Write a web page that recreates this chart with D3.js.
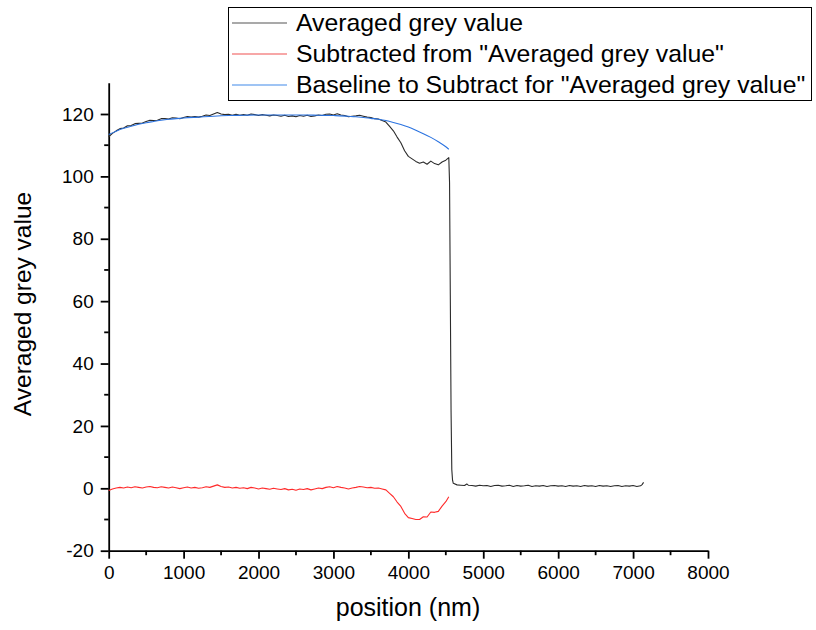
<!DOCTYPE html>
<html>
<head>
<meta charset="utf-8">
<script src="https://cdn.jsdelivr.net/npm/d3@7/dist/d3.min.js"></script>
<style>
  html, body { margin: 0; padding: 0; background: #fff; }
  svg { display: block; font-family: "Liberation Sans", Arial, sans-serif; }
</style>
</head>
<body>
<svg id="chart" width="816" height="630"></svg>
<script>
// ---- data -------------------------------------------------------------
const seriesNames = [
  "Averaged grey value",
  "Subtracted from \"Averaged grey value\"",
  "Baseline to Subtract for \"Averaged grey value\""
];

// Averaged grey value profile (position in nm)
const greyPos = [
  0,50,100,150,200,250,300,350,400,450,500,550,600,650,700,750,800,850,900,950,
  1000,1050,1100,1150,1200,1250,1300,1350,1400,1450,1500,1550,1600,1650,1700,1750,1800,1850,1900,1950,
  2000,2050,2100,2150,2200,2250,2300,2350,2400,2450,2500,2550,2600,2650,2700,2750,2800,2850,2900,2950,
  3000,3050,3100,3150,3200,3250,3300,3350,3400,3450,3500,3550,3600,3650,3700,3750,3800,3850,3900,3950,
  4000,4050,4100,4150,4200,4250,4300,4350,4400,4450,4500,4540,4550,4560,4570,4580,4590,4600,4650,4700,
  4750,4780,4800,4850,4900,4950,5000,5050,5100,5150,5200,5250,5300,5350,5400,5450,5500,5550,5600,5650,
  5700,5750,5800,5850,5900,5950,6000,6050,6100,6150,6200,6250,6300,6350,6400,6450,6500,6550,6600,6650,
  6700,6750,6800,6850,6900,6950,7000,7050,7100,7120,7140
];
const greyVal = [
  112.7,113.8,114.6,115.3,115.5,116.2,116.3,116.9,117.0,117.1,117.6,118.0,117.9,118.0,118.5,118.5,118.4,118.8,118.7,118.5,
  118.9,119.2,119.0,119.2,119.0,119.3,119.7,119.5,120.0,120.5,120.0,119.8,119.9,119.6,119.9,119.6,119.8,119.6,120.0,119.8,
  119.5,119.8,119.6,119.4,119.7,119.5,119.3,119.6,119.2,119.4,119.1,119.5,119.3,119.6,119.2,119.4,119.7,119.5,119.9,120.0,
  119.7,120.1,119.7,119.5,119.1,119.3,119.4,119.6,119.3,119.0,118.9,118.5,118.4,117.9,117.4,116.0,114.6,112.6,110.8,108.2,
  106.4,105.6,104.8,104.2,104.6,103.9,104.9,104.1,103.7,104.6,105.2,106.0,98.0,62.0,25.0,6.0,2.6,1.6,1.1,1.0,
  0.9,1.4,1.0,0.9,0.7,1.0,0.8,0.9,0.6,0.9,1.0,0.7,0.8,1.0,0.6,0.9,0.7,0.8,1.0,0.6,
  0.8,0.7,0.9,0.6,0.8,0.9,0.7,0.8,0.6,0.9,0.7,0.8,0.6,0.9,0.7,0.8,0.6,0.9,0.7,0.8,
  0.6,0.8,0.9,0.6,0.8,0.7,0.9,0.6,0.8,1.2,1.9
];

// Baseline-subtracted profile
const subPos = [
  0,50,100,150,200,250,300,350,400,450,500,550,600,650,700,750,800,850,900,950,
  1000,1050,1100,1150,1200,1250,1300,1350,1400,1450,1500,1550,1600,1650,1700,1750,1800,1850,1900,1950,
  2000,2050,2100,2150,2200,2250,2300,2350,2400,2450,2500,2550,2600,2650,2700,2750,2800,2850,2900,2950,
  3000,3050,3100,3150,3200,3250,3300,3350,3400,3450,3500,3550,3600,3650,3700,3750,3800,3850,3900,3950,
  4000,4050,4100,4150,4200,4250,4300,4350,4400,4450,4500,4540
];
const subVal = [
  -0.7,-0.2,0.1,0.3,0.1,0.4,0.2,0.5,0.3,0.1,0.4,0.6,0.3,0.2,0.5,0.3,0.1,0.4,0.2,-0.1,
  0.2,0.4,0.1,0.3,0.0,0.2,0.5,0.3,0.7,1.1,0.6,0.3,0.4,0.1,0.3,0.0,0.2,-0.1,0.3,0.1,
  -0.2,0.1,-0.1,-0.3,0.0,-0.2,-0.4,-0.1,-0.5,-0.3,-0.6,-0.2,-0.4,-0.1,-0.5,-0.2,0.1,-0.1,0.3,0.5,
  0.2,0.6,0.3,0.1,-0.2,0.1,0.3,0.6,0.4,0.2,0.3,0.0,0.1,-0.2,-0.5,-1.6,-2.7,-4.4,-5.8,-8.0,
  -9.4,-9.7,-10.0,-10.0,-9.1,-9.2,-7.6,-7.7,-7.4,-5.7,-4.3,-2.7
];

// Fitted baseline
const basePos = [
  0,100,200,300,400,500,600,700,800,900,1000,1200,1400,1600,1800,2000,2200,2400,2600,2800,
  3000,3200,3300,3400,3500,3600,3700,3800,3900,4000,4100,4200,4300,4400,4500,4540
];
const baseVal = [
  113.4,114.5,115.4,116.1,116.7,117.2,117.6,118.0,118.3,118.5,118.7,119.0,119.3,119.5,119.6,119.7,119.7,119.7,119.7,119.6,
  119.5,119.3,119.1,118.9,118.6,118.3,117.9,117.3,116.6,115.8,114.8,113.7,112.5,111.1,109.5,108.7
];

const xTicks = [0,1000,2000,3000,4000,5000,6000,7000,8000];
const yTicks = [-20,0,20,40,60,80,100,120];

// ---- layout -----------------------------------------------------------
const svg = d3.select("#chart");
const x = d3.scaleLinear().domain([0, 8000]).range([108.7, 708]);
const y = d3.scaleLinear().domain([-20, 130]).range([550.7, 82.8]);

const colors = ["#2b2b2b", "#ff2a2a", "#2b73e0"];
const legendColors = ["#8c8c8c", "#f58a8a", "#7fb0f0"];
const plain = d => String(d);   // hyphen-minus for negatives

// ---- axes -------------------------------------------------------------
const xMinor = d3.range(500, 8000, 1000);
const yMinor = d3.range(-10, 130, 20);

const xAxisG = svg.append("g").attr("transform", `translate(0,${y(-20)})`);
xAxisG.call(d3.axisBottom(x).tickValues(xTicks).tickFormat(plain).tickSize(8).tickSizeOuter(0).tickPadding(7));
xAxisG.selectAll(".tick line").attr("stroke", "#000").attr("stroke-width", 1.8);
xAxisG.select(".domain").attr("stroke", "#000").attr("stroke-width", 1.8);
xAxisG.selectAll(".tick text").attr("font-size", 19).attr("fill", "#000")
  .attr("font-family", "'Liberation Sans', Arial, sans-serif");
xAxisG.selectAll(".minor").data(xMinor).enter().append("line")
  .attr("class", "minor")
  .attr("x1", d => x(d)).attr("x2", d => x(d))
  .attr("y1", 0).attr("y2", 4.5)
  .attr("stroke", "#000").attr("stroke-width", 1.8);

const yAxisG = svg.append("g").attr("transform", `translate(${x(0)},0)`);
yAxisG.call(d3.axisLeft(y).tickValues(yTicks).tickFormat(plain).tickSize(8).tickSizeOuter(0).tickPadding(7));
yAxisG.selectAll(".tick line").attr("stroke", "#000").attr("stroke-width", 1.8);
yAxisG.select(".domain").attr("stroke", "#000").attr("stroke-width", 1.8);
yAxisG.selectAll(".tick text").attr("font-size", 19).attr("fill", "#000")
  .attr("font-family", "'Liberation Sans', Arial, sans-serif");
yAxisG.selectAll(".minor").data(yMinor).enter().append("line")
  .attr("class", "minor")
  .attr("x1", 0).attr("x2", -4.5)
  .attr("y1", d => y(d)).attr("y2", d => y(d))
  .attr("stroke", "#000").attr("stroke-width", 1.8);

// axis titles
svg.append("text")
  .attr("x", 408).attr("y", 616)
  .attr("text-anchor", "middle").attr("font-size", 25).attr("fill", "#000")
  .text("position (nm)");
svg.append("text")
  .attr("transform", `translate(31,304) rotate(-90)`)
  .attr("text-anchor", "middle").attr("font-size", 24.5).attr("fill", "#000")
  .text("Averaged grey value");

// ---- series -----------------------------------------------------------
const line = d3.line().x(d => x(d[0])).y(d => y(d[1]));
const series = [
  d3.zip(greyPos, greyVal),
  d3.zip(subPos, subVal),
  d3.zip(basePos, baseVal)
];
const lineCurves = [d3.curveLinear, d3.curveLinear, d3.curveMonotoneX];

series.forEach((pts, i) => {
  svg.append("path")
    .datum(pts)
    .attr("fill", "none")
    .attr("stroke", colors[i])
    .attr("stroke-width", 1.1)
    .attr("stroke-linejoin", "round")
    .attr("d", line.curve(lineCurves[i]));
});

// ---- legend -----------------------------------------------------------
const legend = svg.append("g");
legend.append("rect")
  .attr("x", 228.5).attr("y", 7.5).attr("width", 583).attr("height", 93)
  .attr("fill", "#fff").attr("stroke", "#000").attr("stroke-width", 1);
const rowY = [23, 54, 85];
seriesNames.forEach((name, i) => {
  legend.append("line")
    .attr("x1", 232).attr("x2", 287)
    .attr("y1", rowY[i]).attr("y2", rowY[i])
    .attr("stroke", legendColors[i]).attr("stroke-width", 1.5);
  legend.append("text")
    .attr("x", 296).attr("y", rowY[i] + 8)
    .attr("font-size", 24.8).attr("fill", "#000")
    .text(name);
});
</script>
</body>
</html>
